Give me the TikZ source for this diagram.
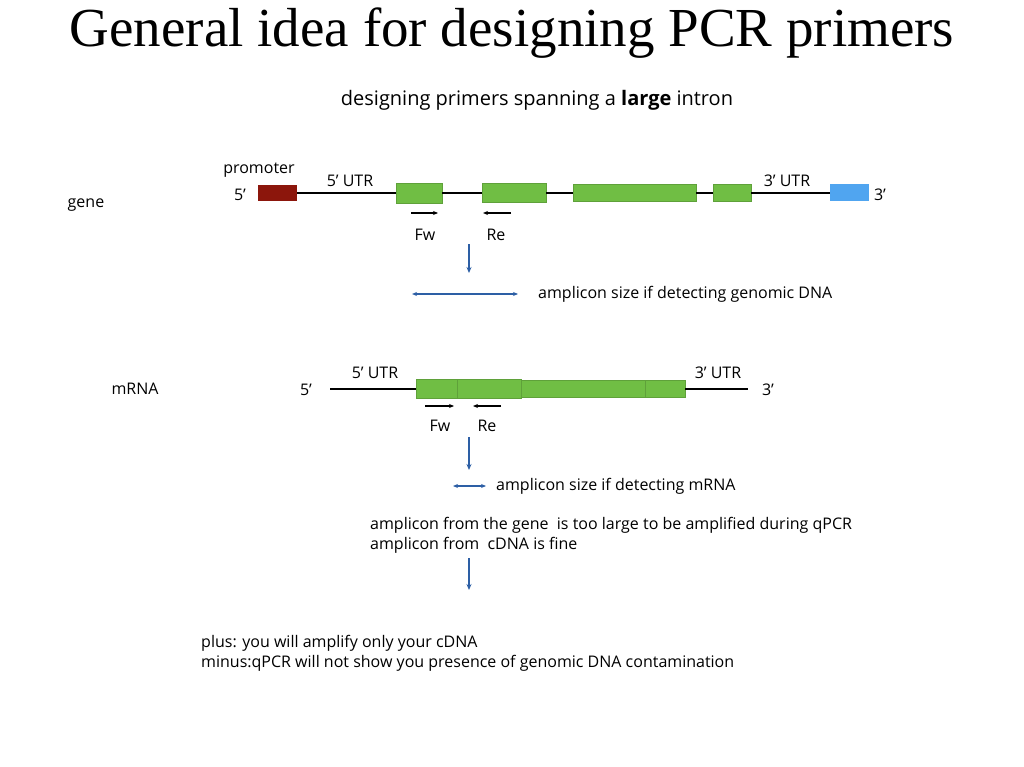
\documentclass[tikz,border=0pt]{standalone}
\usepackage{fontspec}
\setmainfont{Liberation Serif}
\setsansfont{Open Sans}
\usetikzlibrary{arrows.meta}
\definecolor{exoncol}    {RGB}{112,190,68}
\definecolor{promotercol}{RGB}{140,22,12}
\definecolor{tailcol}    {RGB}{80,165,240}
\definecolor{flowcol}    {RGB}{45,95,165}

\tikzset{
  exon/.style={fill=exoncol, draw=exoncol!85!black, line width=0.3pt, inner sep=0pt},
  lbl/.style={font=\fontsize{16}{20}\sffamily, inner sep=1pt},
  primer/.style={-{Stealth[length=5pt,width=4pt]}, line width=1.4pt},
  flow/.style={-{Stealth[length=6pt,width=5pt]}, flowcol, line width=1.3pt},
  span/.style={{Stealth[length=5pt,width=4pt]}-{Stealth[length=5pt,width=4pt]}, flowcol, line width=1.2pt},
}

\begin{document}
\begin{tikzpicture}[x=1pt, y=-1pt, font=\sffamily]
\useasboundingbox (0,0) rectangle (1024,767);

% Title
\node[font=\fontsize{55}{60}\rmfamily] (title) at (512,33) {General idea for designing PCR primers};
\node[font=\fontsize{20}{24}\sffamily] (subtitle) at (537,100)
    {designing primers spanning a \textbf{large} intron};

% ================================================================
% GENE
% ================================================================
\node[lbl] (genelbl) at (86,205) {gene};
\node[lbl] (promlbl) at (259,170) {promoter};
\node[lbl] (g5) at (240,195) {5’};
\node[lbl] (g3) at (880,195) {3’};

\node[fill=promotercol, minimum width=39pt, minimum height=16pt, inner sep=0pt] (prom) at (277.5,193) {};
\node[exon, minimum width=46pt,  minimum height=20pt] (ex1) at (419,193) {};
\node[exon, minimum width=64pt,  minimum height=19pt] (ex2) at (514,193) {};
\node[exon, minimum width=123pt, minimum height=17pt] (ex3) at (634.5,193) {};
\node[exon, minimum width=38pt,  minimum height=17pt] (ex4) at (732,193) {};
\node[fill=tailcol, minimum width=39pt, minimum height=17pt, inner sep=0pt] (tail) at (849.5,193) {};

\draw[line width=1.5pt] (prom.east) -- (ex1.west);
\draw[line width=1.5pt] (ex1.east) -- (ex2.west);
\draw[line width=1.5pt] (ex2.east) -- (ex3.west);
\draw[line width=1.5pt] (ex3.east) -- (ex4.west);
\draw[line width=1.5pt] (ex4.east) -- (tail.west);

\node[lbl] (g5utr) at (350,181) {5’ UTR};
\node[lbl] (g3utr) at (787,181) {3’ UTR};

% primers
\coordinate (gfwA) at (411,213);
\coordinate (gfwB) at (438,213);
\coordinate (greA) at (511,213);
\coordinate (greB) at (483,213);
\draw[primer] (gfwA) -- (gfwB);
\draw[primer] (greA) -- (greB);
\node[lbl] (gfw) at (425,235) {Fw};
\node[lbl] (gre) at (496,235) {Re};

\coordinate (gdownA) at (469,244);
\coordinate (gdownB) at (469,273);
\draw[flow] (gdownA) -- (gdownB);

\coordinate (gampA) at (412,294);
\coordinate (gampB) at (518,294);
\draw[span] (gampA) -- (gampB);
\node[lbl, anchor=west] (gamplbl) at (537,294) {amplicon size if detecting genomic DNA};

% ================================================================
% mRNA
% ================================================================
\node[lbl] (mrnalbl) at (135,389) {mRNA};
\node[lbl] (m5) at (306,390) {5’};
\node[lbl] (m3) at (768,390) {3’};

\node[exon, minimum width=45pt,  minimum height=19pt] (mx1) at (438.5,389) {};
\node[exon, minimum width=64pt,  minimum height=19pt] (mx2) at (489,389) {};
\node[exon, minimum width=125pt, minimum height=17pt] (mx3) at (583.5,389) {};
\node[exon, minimum width=40pt,  minimum height=17pt] (mx4) at (665,389) {};

\coordinate (mstart) at (330,389);
\coordinate (mend) at (748,389);
\draw[line width=1.5pt] (mstart) -- (mx1.west);
\draw[line width=1.5pt] (mx4.east) -- (mend);

\node[lbl] (m5utr) at (375,373) {5’ UTR};
\node[lbl] (m3utr) at (718,373) {3’ UTR};

% primers
\coordinate (mfwA) at (425,406);
\coordinate (mfwB) at (454,406);
\coordinate (mreA) at (501,406);
\coordinate (mreB) at (473,406);
\draw[primer] (mfwA) -- (mfwB);
\draw[primer] (mreA) -- (mreB);
\node[lbl] (mfw) at (440,426) {Fw};
\node[lbl] (mre) at (487,426) {Re};

\coordinate (mdownA) at (469,437);
\coordinate (mdownB) at (469,470);
\draw[flow] (mdownA) -- (mdownB);

\coordinate (mampA) at (453,486);
\coordinate (mampB) at (486,486);
\draw[span] (mampA) -- (mampB);
\node[lbl, anchor=west] (mamplbl) at (495,486) {amplicon size if detecting mRNA};

% ================================================================
% CONCLUSION
% ================================================================
\node[lbl, anchor=base west, align=left] (why) at (369,549)
    {amplicon from the gene\ \ is too large to be amplified during qPCR\\
     amplicon from\ \ cDNA is fine};

\coordinate (cdownA) at (469,558);
\coordinate (cdownB) at (469,590);
\draw[flow] (cdownA) -- (cdownB);

\node[lbl, anchor=base west, align=left] (pros) at (200,667)
    {plus: you will amplify only your cDNA\\
     minus:qPCR will not show you presence of genomic DNA contamination};

\end{tikzpicture}
\end{document}
